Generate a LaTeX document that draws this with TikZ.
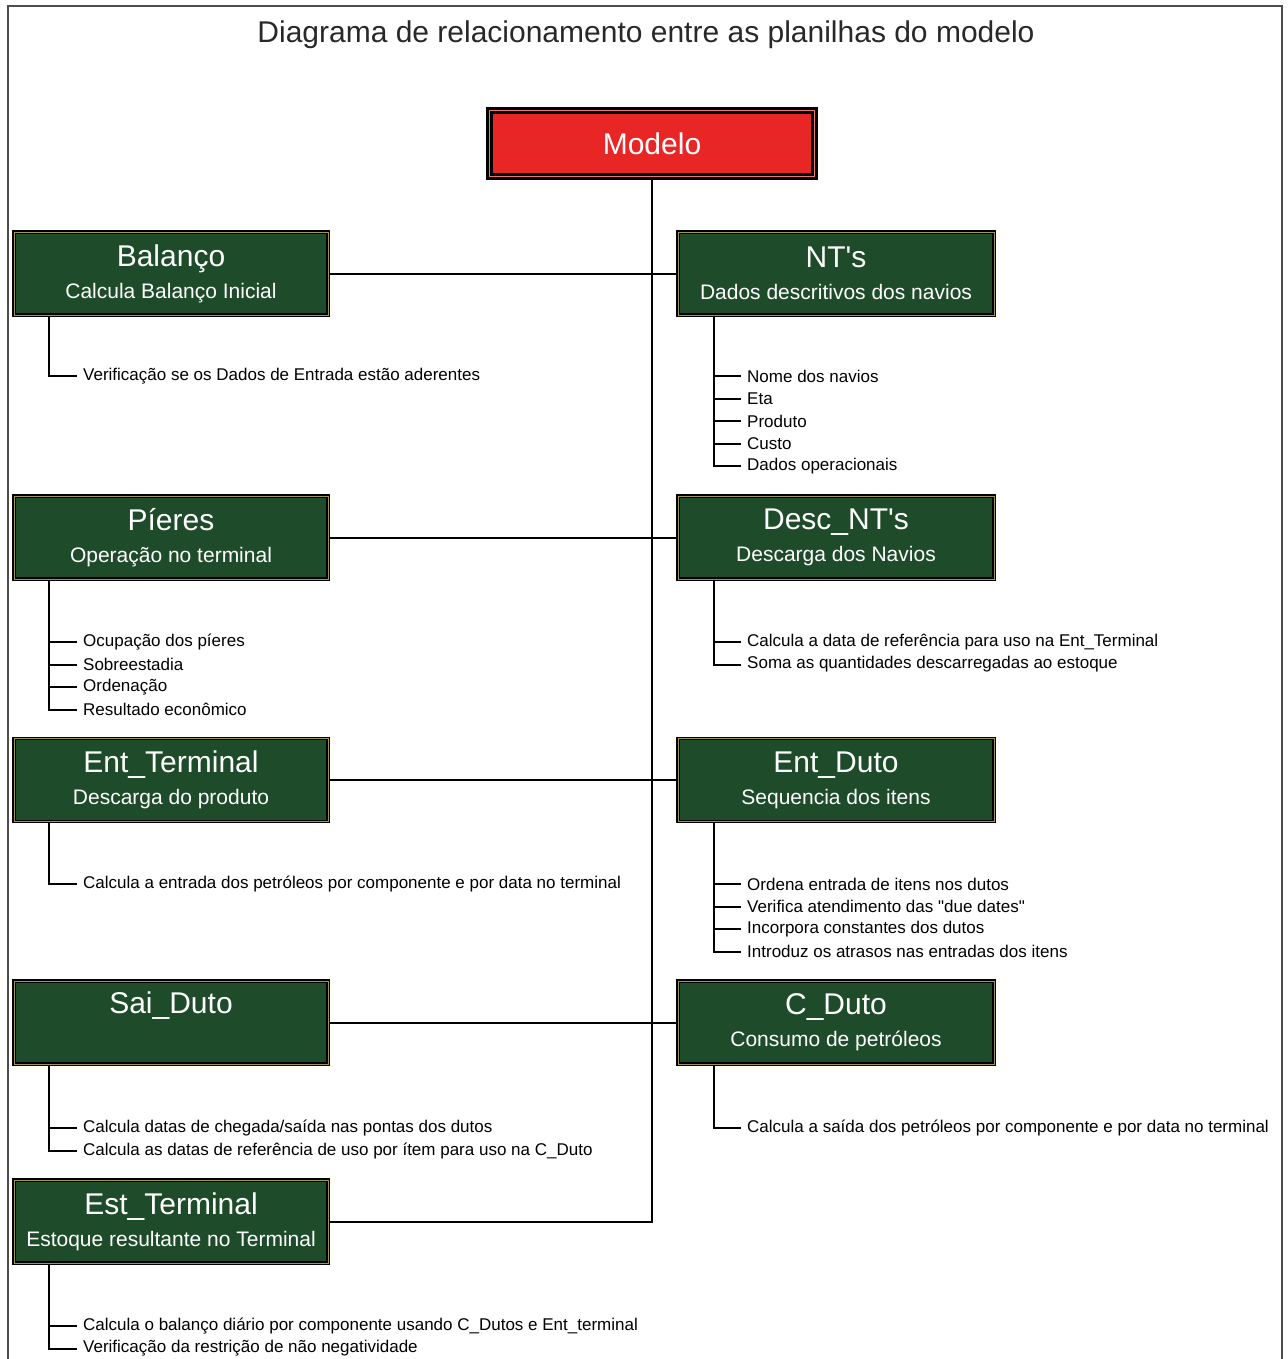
\documentclass[tikz,border=0pt]{standalone}
\usepackage{fontspec}
\setmainfont{Liberation Sans}
\usepackage{tikz}
\usetikzlibrary{positioning, calc}

\definecolor{sheetgreen}{RGB}{30,76,42}
\definecolor{sheetrim}{RGB}{160,150,80}
\definecolor{modelred}{RGB}{232,38,38}
\definecolor{modelrim}{RGB}{235,120,110}
\definecolor{titlegray}{RGB}{40,40,40}

\newcommand{\sheettitle}[1]{{\fontsize{30}{32}\selectfont #1}}
\newcommand{\sheetnote}[1]{{\fontsize{21}{24}\selectfont #1}}

\tikzset{
  frame/.style={draw=black!70, line width=1.2pt},
  heading/.style={font=\fontsize{30}{32}\selectfont, text=titlegray},
  modelbox/.style={draw=black, line width=2.6pt, double=modelrim, double distance=1.4pt,
    fill=modelred, text=white, minimum width=325pt, minimum height=66pt,
    font=\fontsize{30}{32}\selectfont},
  sheet/.style={draw=black, line width=1.4pt, double=sheetrim, double distance=0.8pt,
    fill=sheetgreen, text=white, minimum height=83pt, align=center, inner sep=0pt,
    font=\fontsize{21}{32}\selectfont},
  lsheet/.style={sheet, minimum width=314pt},
  rsheet/.style={sheet, minimum width=316pt},
  link/.style={draw=black, line width=2pt},
  twig/.style={draw=black, line width=2pt},
  entry/.style={anchor=west, inner xsep=6pt, inner ysep=1pt, font=\fontsize{17}{20}\selectfont}
}

\begin{document}
\begin{tikzpicture}[x=1pt,y=-1pt]
  \useasboundingbox (0,0) rectangle (1287,1359);
  \draw[frame] (8,1359) -- (8,6) -- (1282,6) -- (1282,1359);
  \node[heading] (titulo) at (646,35) {Diagrama de relacionamento entre as planilhas do modelo};

  % planilhas
  \node[modelbox] (modelo) at (652,143.5) {Modelo};
  \node[lsheet] (balanco) at (171,273.5) {\sheettitle{Balanço}\\\sheetnote{Calcula Balanço Inicial}};
  \node[rsheet] (nts) at (836,273.5) {\sheettitle{NT\textquotesingle s}\\\sheetnote{Dados descritivos dos navios}};
  \node[lsheet] (pieres) at (171,537.5) {\sheettitle{Píeres}\\\sheetnote{Operação no terminal}};
  \node[rsheet] (descnts) at (836,537.5) {\sheettitle{Desc\_NT\textquotesingle s}\\\sheetnote{Descarga dos Navios}};
  \node[lsheet] (entterminal) at (171,780) {\sheettitle{Ent\_Terminal}\\\sheetnote{Descarga do produto}};
  \node[rsheet] (entduto) at (836,780) {\sheettitle{Ent\_Duto}\\\sheetnote{Sequencia dos itens}};
  \node[lsheet] (saiduto) at (171,1022.5) {\sheettitle{Sai\_Duto}\\\sheetnote{\strut}};
  \node[rsheet] (cduto) at (836,1022.5) {\sheettitle{C\_Duto}\\\sheetnote{Consumo de petróleos}};
  \node[lsheet] (estterminal) at (171,1221.5) {\sheettitle{Est\_Terminal}\\\sheetnote{Estoque resultante no Terminal}};

  % ligacoes
  \draw[link] (modelo.south) |- (estterminal.east);
  \draw[link] (balanco.east) -- (nts.west);
  \draw[link] (pieres.east) -- (descnts.west);
  \draw[link] (entterminal.east) -- (entduto.west);
  \draw[link] (saiduto.east) -- (cduto.west);

  % raizes das listas
  \foreach \s in {balanco, pieres, entterminal, saiduto, estterminal}
    \coordinate (\s-r) at ([xshift=36pt]\s.south west);
  \foreach \s in {nts, descnts, entduto, cduto}
    \coordinate (\s-r) at ([xshift=37pt]\s.south west);

  % listas
  \node[entry] (balanco-1) at (77,376) {Verificação se os Dados de Entrada estão aderentes};
  \draw[twig] (balanco-r) |- (balanco-1.west);

  \foreach \txt [count=\i] in {Nome dos navios, Eta, Produto, Custo, Dados operacionais} {
    \node[entry] (nts-\i) at (741,353.5+22.5*\i) {\txt};
    \draw[twig] (nts-r) |- (nts-\i.west);
  }

  \foreach \txt [count=\i] in {Ocupação dos píeres, Sobreestadia, Ordenação, Resultado econômico} {
    \node[entry] (pieres-\i) at (77,619.5+22.5*\i) {\txt};
    \draw[twig] (pieres-r) |- (pieres-\i.west);
  }

  \foreach \txt [count=\i] in {Calcula a data de referência para uso na Ent\_Terminal,
      Soma as quantidades descarregadas ao estoque} {
    \node[entry] (descnts-\i) at (741,619.5+22.5*\i) {\txt};
    \draw[twig] (descnts-r) |- (descnts-\i.west);
  }

  \node[entry] (entterminal-1) at (77,884) {Calcula a entrada dos petróleos por componente e por data no terminal};
  \draw[twig] (entterminal-r) |- (entterminal-1.west);

  \foreach \txt [count=\i] in {Ordena entrada de itens nos dutos,
      Verifica atendimento das \textquotedbl due dates\textquotedbl,
      Incorpora constantes dos dutos, Introduz os atrasos nas entradas dos itens} {
    \node[entry] (entduto-\i) at (741,861.5+22.5*\i) {\txt};
    \draw[twig] (entduto-r) |- (entduto-\i.west);
  }

  \foreach \txt [count=\i] in {Calcula datas de chegada/saída nas pontas dos dutos,
      Calcula as datas de referência de uso por ítem para uso na C\_Duto} {
    \node[entry] (saiduto-\i) at (77,1105.5+22.5*\i) {\txt};
    \draw[twig] (saiduto-r) |- (saiduto-\i.west);
  }

  \node[entry] (cduto-1) at (741,1128) {Calcula a saída dos petróleos por componente e por data no terminal};
  \draw[twig] (cduto-r) |- (cduto-1.west);

  \foreach \txt [count=\i] in {Calcula o balanço diário por componente usando C\_Dutos e Ent\_terminal,
      Verificação da restrição de não negatividade} {
    \node[entry] (estterminal-\i) at (77,1303.5+22.5*\i) {\txt};
    \draw[twig] (estterminal-r) |- (estterminal-\i.west);
  }
\end{tikzpicture}
\end{document}
